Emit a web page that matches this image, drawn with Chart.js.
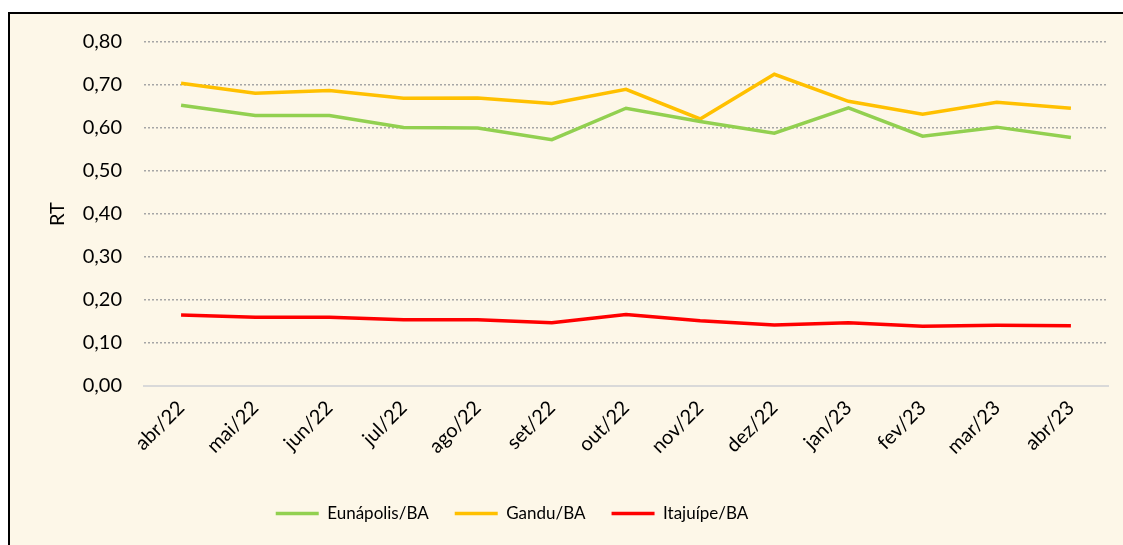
<!DOCTYPE html>
<html>
<head>
<meta charset="utf-8">
<script src="https://cdn.jsdelivr.net/npm/chart.js@4"></script>
<style>
  body { margin: 0; background: #ffffff; overflow: hidden; }
  #wrap {
    position: absolute; left: 8px; top: 12px;
    width: 1125px; height: 540px;
    border-left: 2px solid #000; border-top: 2px solid #000;
    background: #fdf7e8;
  }
  #chart { position: absolute; left: 0; top: -6px; }
</style>
</head>
<body>
<div id="wrap"><canvas id="chart" width="1125" height="541"></canvas></div>
<script>
const labels = ['abr/22', 'mai/22', 'jun/22', 'jul/22', 'ago/22', 'set/22', 'out/22', 'nov/22', 'dez/22', 'jan/23', 'fev/23', 'mar/23', 'abr/23'];
const eunapolis = [0.653, 0.629, 0.629, 0.601, 0.600, 0.573, 0.646, 0.615, 0.588, 0.647, 0.581, 0.602, 0.578];
const gandu = [0.704, 0.681, 0.687, 0.669, 0.670, 0.657, 0.690, 0.621, 0.725, 0.662, 0.632, 0.660, 0.646];
const itajuipe = [0.165, 0.160, 0.160, 0.154, 0.154, 0.147, 0.166, 0.152, 0.142, 0.147, 0.139, 0.141, 0.140];

const fontFamily = 'Lato, "Open Sans", sans-serif';

function line(label, data, color) {
    return {
        label: label,
        data: data,
        borderColor: color,
        backgroundColor: color,
        borderWidth: 3.5,
        pointRadius: 0,
        tension: 0,
        pointStyle: 'line'
    };
}

// legend in the original sits a bit left of the centre
const shiftLegend = {
    id: 'shiftLegend',
    afterLayout(chart) {
        chart.legend.left -= 47;
        chart.legend.right -= 47;
    }
};

new Chart(document.getElementById('chart').getContext('2d'), {
    type: 'line',
    data: {
        labels: labels,
        datasets: [
            line('Eunápolis/BA', eunapolis, '#92d050'),
            line('Gandu/BA', gandu, '#ffc000'),
            line('Itajuípe/BA', itajuipe, '#ff0000')
        ]
    },
    plugins: [shiftLegend],
    options: {
        responsive: false,
        animation: false,
        layout: { padding: { top: 22, right: 27, bottom: 17, left: 0 } },
        plugins: {
            legend: {
                position: 'bottom',
                labels: {
                    usePointStyle: true,
                    pointStyleWidth: 43,
                    color: '#000',
                    padding: 26,
                    font: { family: fontFamily, size: 17 }
                }
            },
            tooltip: { enabled: false }
        },
        scales: {
            x: {
                offset: true,
                grid: { display: false, drawTicks: false },
                border: { display: true, color: '#d9d9d9', width: 2 },
                ticks: {
                    color: '#000',
                    minRotation: 45,
                    maxRotation: 45,
                    padding: 10,
                    font: { family: fontFamily, size: 20 }
                },
                afterFit: function (scale) { scale.height = 93; }
            },
            y: {
                min: 0,
                max: 0.8,
                grid: {
                    color: '#a6a6a6',
                    lineWidth: 1.5,
                    drawTicks: false
                },
                border: { display: false, dash: [2, 2] },
                ticks: {
                    stepSize: 0.1,
                    color: '#000',
                    padding: 22,
                    font: { family: fontFamily, size: 20 },
                    callback: function (v) { return v.toFixed(2).replace('.', ','); }
                },
                title: {
                    display: true,
                    text: 'RT',
                    color: '#000',
                    padding: { top: 36, bottom: 0 },
                    font: { family: fontFamily, size: 20 }
                },
                afterFit: function (scale) { scale.width = 134; }
            }
        }
    }
});
</script>
</body>
</html>
